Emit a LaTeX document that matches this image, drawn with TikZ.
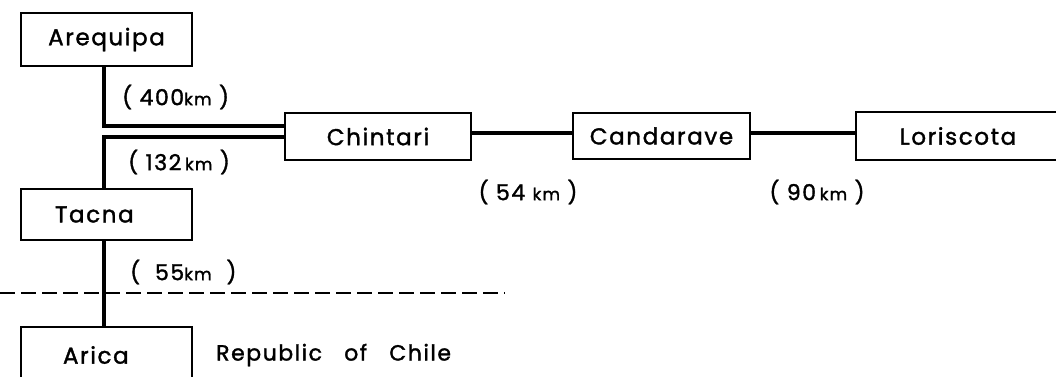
\documentclass[tikz,border=0pt]{standalone}
\usepackage{fontspec}
\setmainfont{Poppins}[LetterSpace=7,FakeBold=1.5]
\begin{document}
\begin{tikzpicture}[x=1pt,y=-1pt,
  place/.style={draw,line width=2.2pt,inner sep=0pt,font=\fontsize{23}{27}\selectfont},
  road/.style={line width=3.6pt},
  dist/.style={inner sep=0pt,font=\fontsize{22}{26}\selectfont},
  border/.style={line width=2.8pt,dash pattern=on 15pt off 6pt}]
\clip (0,0) rectangle (1056,376);
\fill[white] (0,0) rectangle (1056,376);

% towns
\node[place,minimum width=171pt,minimum height=53pt] (Arequipa) at (106.5,39.5) {Arequipa};
\node[place,minimum width=171pt,minimum height=51pt,text width=103pt,align=left] (Tacna) at (106.5,214.5) {Tacna};
\node[place,minimum width=171pt,minimum height=56pt,text width=87pt,align=left] (Arica) at (106.5,355) {Arica};
\node[place,minimum width=186pt,minimum height=47pt] (Chintari) at (378,136.5) {Chintari};
\node[place,minimum width=177pt,minimum height=46pt] (Candarave) at (661.5,136) {Candarave};
\node[place,minimum width=204pt,minimum height=48pt] (Loriscota) at (958,136) {Loriscota};

% junction points of the roads
\coordinate (jA) at (104,126);
\coordinate (jT) at (104,137);
\coordinate (main) at (0,133);

% roads
\draw[road] (jA |- Arequipa.south) -- (jA) -- (jA -| Chintari.west);
\draw[road] (jT -| Chintari.west) -- (jT) -- (jT |- Tacna.north);
\draw[road] (jT |- Tacna.south) -- (jT |- Arica.north);
\draw[road] (Chintari.east |- main) -- (Candarave.west |- main);
\draw[road] (Candarave.east |- main) -- (Loriscota.west |- main);

% frontier
\coordinate (bL) at (0,293);
\coordinate (bR) at (505,293);
\draw[border] (bL) -- (bR);

% distances
\newcommand{\kmtxt}{{\fontsize{17}{20}\selectfont km}}
\node[dist,anchor=west] (d400) at (122,97) {( 400\kmtxt\ )};
\node[dist,anchor=west] (d132) at (128,162) {( 132\,\kmtxt\ )};
\node[dist,anchor=west] (d55) at (130,272) {(\ \ 55\kmtxt\ \ )};
\node[dist] (d54) at (528,192) {( 54 \kmtxt\ )};
\node[dist] (d90) at (817,192) {( 90\,\kmtxt\ )};
\node[dist,anchor=west] (chile) at (216,355) {Republic\ \ \ of\ \ \ Chile};
\end{tikzpicture}
\end{document}
